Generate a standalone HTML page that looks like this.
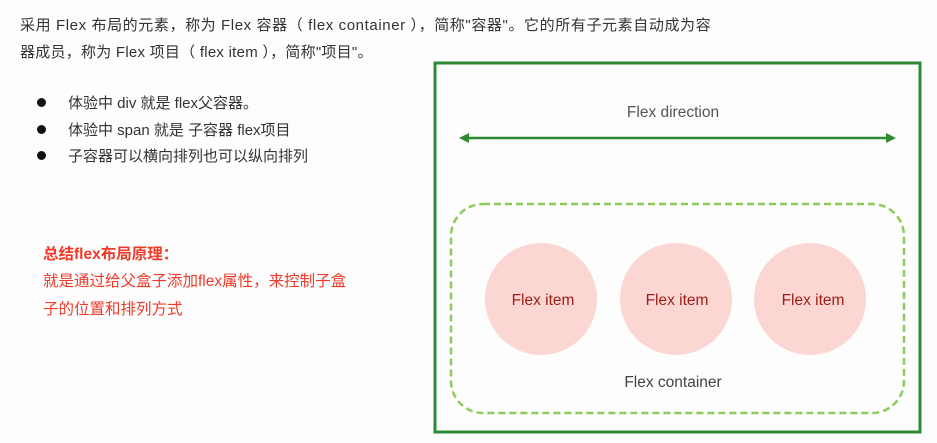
<!DOCTYPE html>
<html><head><meta charset="utf-8"><style>
body{margin:0;width:937px;height:443px;background:#fdfdfd;overflow:hidden;position:relative;font-family:"Liberation Sans","Noto Sans CJK SC",sans-serif;}
.t{position:absolute;white-space:nowrap;font-size:15px;color:#333;}
.r{color:#f03a2a;font-size:15.5px;}
.dot{position:absolute;width:9px;height:9px;border-radius:50%;background:#111;}
</style></head><body>
<div class="t" style="left:20px;top:14px;letter-spacing:0.6px">采用 Flex 布局的元素，称为 Flex 容器（ flex container ），简称"容器"。它的所有子元素自动成为容</div>
<div class="t" style="left:20px;top:41px;letter-spacing:0.25px">器成员，称为 Flex 项目（ flex item ），简称"项目"。</div>
<div class="dot" style="left:37px;top:98px"></div>
<div class="dot" style="left:37px;top:125px"></div>
<div class="dot" style="left:37px;top:151px"></div>
<div class="t" style="left:68px;top:92px">体验中 div 就是 flex父容器。</div>
<div class="t" style="left:68px;top:119px">体验中 span 就是 子容器 flex项目</div>
<div class="t" style="left:68px;top:145px">子容器可以横向排列也可以纵向排列</div>
<div class="t r" style="left:43px;top:242px;font-weight:bold">总结flex布局原理：</div>
<div class="t r" style="left:43px;top:269px">就是通过给父盒子添加flex属性，来控制子盒</div>
<div class="t r" style="left:43px;top:297px">子的位置和排列方式</div>
<svg style="position:absolute;left:0;top:0" width="937" height="443">
<rect x="435" y="63" width="485" height="369" fill="none" stroke="#2f8a36" stroke-width="3"/>
<line x1="466" y1="138" x2="889" y2="138" stroke="#2f8a36" stroke-width="2.5"/>
<polygon points="459,138 469,133 469,143" fill="#2f8a36"/>
<polygon points="896,138 886,133 886,143" fill="#2f8a36"/>
<text x="673" y="117" text-anchor="middle" font-family="Liberation Sans" font-size="15.5" fill="#555">Flex direction</text>
<rect x="451" y="204" width="453" height="209" rx="32" fill="none" stroke="#8ccc5a" stroke-width="2.5" stroke-dasharray="7,4"/>
<circle cx="541" cy="299" r="56" fill="#fbd6d2"/>
<circle cx="676" cy="299" r="56" fill="#fbd6d2"/>
<circle cx="810" cy="299" r="56" fill="#fbd6d2"/>
<g font-family="Liberation Sans" font-size="15.5" fill="#9c1f15" text-anchor="middle">
<text x="543" y="305">Flex item</text><text x="677" y="305">Flex item</text><text x="813" y="305">Flex item</text></g>
<text x="673" y="387" text-anchor="middle" font-family="Liberation Sans" font-size="15.5" fill="#444">Flex container</text>
</svg>
</body></html>
